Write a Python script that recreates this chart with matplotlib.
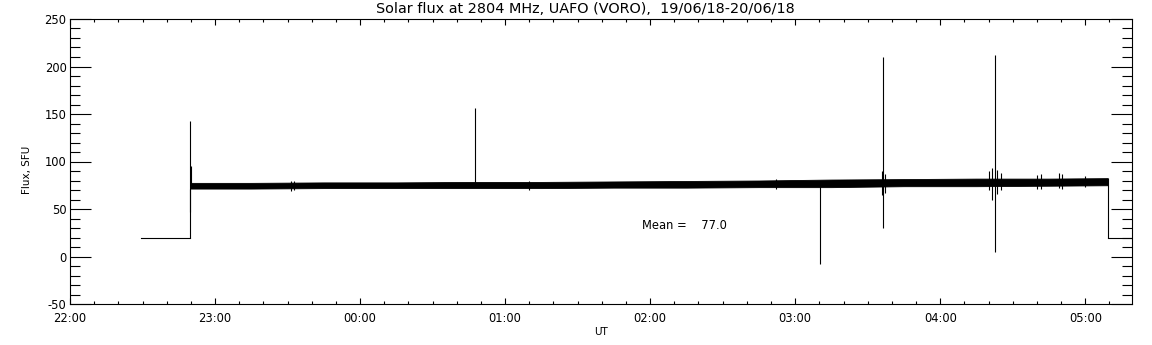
import numpy as np
import matplotlib
matplotlib.use("Agg")
import matplotlib.pyplot as plt
from matplotlib.ticker import MultipleLocator

# ---- data (times in UT) ----
t_start = "22:00:00"
t_end = "05:19:20"

# quiet level before / after the observation
base_t = ["22:29:24", "22:49:48"]
base_v = [20, 20]
tail_t = ["05:09:12", "05:19:20"]
tail_v = [20, 20]

# envelope of the noisy flux band
band_t = ["22:49:48", "23:15:00", "23:45:00", "00:15:00", "00:45:00", "01:15:00",
          "01:45:00", "02:15:00", "02:45:00", "03:15:00", "03:45:00", "04:15:00",
          "04:45:00", "05:09:12"]
band_lo = [71.5, 71.5, 72, 72, 72, 72, 72.5, 72.5, 73, 73, 74, 74, 74.5, 75]
band_hi = [77.5, 77.5, 78, 78, 78.5, 78.5, 79, 79.5, 80, 81, 81.5, 82, 82, 82.5]

# short noise bursts sticking out of the band
noise_t = ["23:31:30", "23:32:30", "01:10:00", "02:52:00", "03:36:00", "03:37:00",
           "04:20:00", "04:21:30", "04:23:30", "04:25:00", "04:40:00", "04:41:30",
           "04:49:00", "04:50:30", "05:00:00"]
noise_lo = [69, 70, 70.5, 71, 65, 67, 70, 60, 66, 70, 71, 71, 72, 71, 73]
noise_hi = [79, 80, 80, 82, 90, 87, 90, 93, 91, 88, 86, 87, 88, 87, 85]

# isolated spikes: time, low, high
spike_t = ["22:49:48", "22:50:00", "00:47:36", "03:10:20", "03:36:30", "04:22:35"]
spike_lo = [47, 72, 76, -8, 30, 5]
spike_hi = [143, 95, 156, 76, 210, 212]

mean_flux = 77.0

x_ticks = ["22:00", "23:00", "00:00", "01:00", "02:00", "03:00", "04:00", "05:00"]
y_ticks = [-50, 0, 50, 100, 150, 200, 250]

title = "Solar flux at 2804 MHz, UAFO (VORO),  19/06/18-20/06/18"


def hours(s):
    # hours after 22:00, crossing midnight
    p = [int(v) for v in s.split(":")]
    while len(p) < 3:
        p.append(0)
    h = p[0] + p[1] / 60 + p[2] / 3600
    if h < 12:
        h += 24
    return h - 22


plt.rcParams['font.family'] = ['DejaVu Sans']
fig = plt.figure(figsize=(11.52, 3.45), dpi=100)
ax = fig.add_axes([70 / 1152, 41 / 345, 1062 / 1152, 285 / 345])

bt = [hours(s) for s in band_t]
ax.fill_between(bt, band_lo, band_hi, color='black', lw=0.6)
ax.plot([hours(s) for s in base_t], base_v, color='black', lw=0.8)
ax.plot([hours(s) for s in tail_t], tail_v, color='black', lw=0.8)
# jumps into and out of the band
ax.vlines(hours(base_t[-1]), base_v[-1], band_lo[0], color='black', lw=0.8)
ax.vlines(hours(tail_t[0]), tail_v[0], band_hi[-1], color='black', lw=0.8)
ax.vlines([hours(s) for s in noise_t], noise_lo, noise_hi, color='black', lw=0.8)
ax.vlines([hours(s) for s in spike_t], spike_lo, spike_hi, color='black', lw=0.8)

ax.set_xlim(hours(t_start), hours(t_end))
ax.set_ylim(y_ticks[0], y_ticks[-1])

ax.set_xticks([hours(s) for s in x_ticks])
ax.set_xticklabels(x_ticks)
ax.xaxis.set_minor_locator(MultipleLocator(1 / 6))
ax.set_yticks(y_ticks)
ax.set_yticklabels([str(v) for v in y_ticks])
ax.yaxis.set_minor_locator(MultipleLocator(10))

ax.tick_params(axis='both', which='both', direction='in', top=True, right=True,
               width=0.8, color='black', labelsize=8.3)
ax.tick_params(axis='x', which='major', length=4, pad=6)
ax.tick_params(axis='x', which='minor', length=2)
ax.tick_params(axis='y', which='major', length=15, pad=2.5)
ax.tick_params(axis='y', which='minor', length=7.5)
for sp in ax.spines.values():
    sp.set_linewidth(0.8)

ax.text(hours("01:56:40"), 33, "Mean =    %.1f" % mean_flux, fontsize=8.3, va='center', ha='left')

fig.text(585 / 1152, 1 - 9 / 345, title, ha='center', va='center', fontsize=10.4)
fig.text(601 / 1152, 1 - 332 / 345, "UT", ha='center', va='center', fontsize=7.5)
fig.text(27 / 1152, 1 - 170 / 345, "Flux, SFU", ha='center', va='center', rotation=90, fontsize=7.5)

fig.savefig("out.png", dpi=100)
